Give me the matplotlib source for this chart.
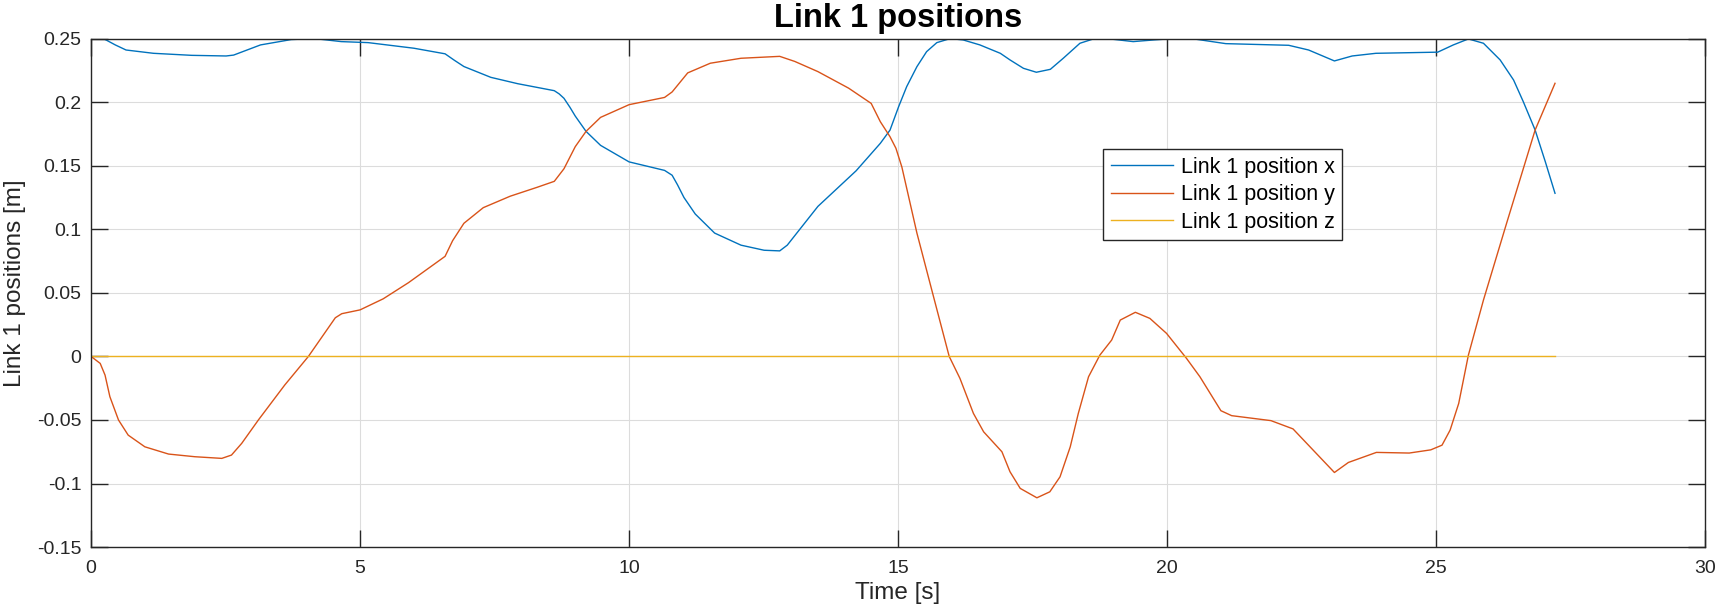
import matplotlib
matplotlib.use("Agg")
import matplotlib.pyplot as plt

plt.rcParams['font.family'] = ['Liberation Sans', 'DejaVu Sans']

# ---- data ----
t_x = [0, 0.23, 0.45, 0.65, 1.16, 1.87, 2.51, 2.65, 3.15, 3.72, 4.15, 4.65, 5.15, 6.0, 6.58,
       6.75, 6.93, 7.43, 7.93, 8.61, 8.7, 8.79, 8.9, 9.0, 9.2, 9.47, 10.0, 10.66, 10.8, 10.9,
       11.02, 11.23, 11.59, 12.08, 12.51, 12.8, 12.94, 13.51, 14.22, 14.67, 14.85, 15.01,
       15.16, 15.35, 15.53, 15.72, 15.97, 16.21, 16.52, 16.9, 17.08, 17.33, 17.57, 17.83,
       18.07, 18.38, 18.63, 19.0, 19.37, 19.75, 20.12, 20.5, 21.09, 22.26, 22.63, 23.11,
       23.44, 23.88, 25.03, 25.32, 25.6, 25.88, 26.19, 26.44, 26.62, 26.84, 27.03, 27.21]
pos_x = [0.25, 0.25, 0.245, 0.241, 0.2384, 0.2368, 0.2363, 0.237, 0.245, 0.2492, 0.25,
         0.2476, 0.2468, 0.2424, 0.238, 0.233, 0.228, 0.2195, 0.2145, 0.209, 0.2065, 0.203,
         0.196, 0.189, 0.177, 0.166, 0.153, 0.1463, 0.1425, 0.135, 0.125, 0.112, 0.097,
         0.0875, 0.0835, 0.083, 0.0875, 0.118, 0.146, 0.1676, 0.178, 0.1964, 0.2122, 0.2279,
         0.2397, 0.2468, 0.25, 0.2489, 0.245, 0.2384, 0.2332, 0.2266, 0.2235, 0.2258, 0.2345,
         0.2463, 0.2497, 0.2494, 0.2476, 0.2489, 0.25, 0.2497, 0.246, 0.2447, 0.241, 0.2324,
         0.2363, 0.2384, 0.2393, 0.245, 0.2497, 0.2463, 0.2332, 0.2174, 0.2004, 0.1781,
         0.1531, 0.1283]

t_y = [0, 0.17, 0.26, 0.35, 0.51, 0.69, 1.0, 1.44, 1.93, 2.43, 2.61, 2.8, 3.11, 3.6, 4.04,
       4.54, 4.66, 5.0, 5.43, 5.9, 6.58, 6.72, 6.93, 7.29, 7.79, 8.29, 8.61, 8.79, 9.0, 9.2,
       9.47, 10.0, 10.66, 10.8, 11.09, 11.51, 12.08, 12.8, 13.08, 13.51, 14.08, 14.5, 14.67,
       14.85, 14.96, 15.07, 15.35, 15.64, 15.95, 16.15, 16.4, 16.59, 16.93, 17.08, 17.27,
       17.58, 17.82, 18.01, 18.2, 18.35, 18.54, 18.75, 18.97, 19.13, 19.41, 19.68, 19.99,
       20.36, 20.61, 21.0, 21.2, 21.93, 22.34, 23.11, 23.37, 23.89, 24.5, 24.9, 25.11,
       25.26, 25.42, 25.6, 25.88, 26.31, 26.84, 27.21]
pos_y = [0, -0.0055, -0.0147, -0.0317, -0.05, -0.0619, -0.0711, -0.0768, -0.0789, -0.0802,
         -0.0776, -0.0684, -0.05, -0.0225, 0.0, 0.0304, 0.0336, 0.0366, 0.0453, 0.058,
         0.0787, 0.091, 0.1047, 0.117, 0.126, 0.133, 0.1377, 0.1476, 0.165, 0.177, 0.188,
         0.198, 0.2037, 0.208, 0.223, 0.2306, 0.2345, 0.236, 0.232, 0.224, 0.211, 0.199,
         0.1846, 0.1728, 0.1637, 0.149, 0.097, 0.05, 0.0, -0.0173, -0.0448, -0.0593, -0.075,
         -0.0907, -0.1038, -0.1112, -0.1065, -0.0947, -0.0711, -0.0448, -0.016, 0.001,
         0.0129, 0.0286, 0.0347, 0.0299, 0.0181, -0.0015, -0.016, -0.0427, -0.0466, -0.0505,
         -0.057, -0.0913, -0.0834, -0.0755, -0.076, -0.0735, -0.0698, -0.058, -0.037, 0.001,
         0.0443, 0.1047, 0.178, 0.2148]

t_z = [0, 27.21]
pos_z = [0, 0]

series_labels = ['Link 1 position x', 'Link 1 position y', 'Link 1 position z']
x_ticks = [0, 5, 10, 15, 20, 25, 30]
y_ticks = [-0.15, -0.1, -0.05, 0, 0.05, 0.1, 0.15, 0.2, 0.25]
y_tick_labels = ['-0.15', '-0.1', '-0.05', '0', '0.05', '0.1', '0.15', '0.2', '0.25']

# ---- figure ----
fig = plt.figure(figsize=(17.18, 6.12), dpi=100)
ax = fig.add_axes([0.053, 0.106, 0.9395, 0.831])

ax.plot(t_x, pos_x, color='#0072BD', lw=1.0, label=series_labels[0])
ax.plot(t_y, pos_y, color='#D95319', lw=1.0, label=series_labels[1])
ax.plot(t_z, pos_z, color='#EDB120', lw=1.0, label=series_labels[2])

ax.set_xlim(0, 30)
ax.set_ylim(-0.15, 0.25)
ax.set_xticks(x_ticks)
ax.set_xticklabels([str(v) for v in x_ticks])
ax.set_yticks(y_ticks)
ax.set_yticklabels(y_tick_labels)

ax.grid(True, color='#dcdcdc', lw=0.8)
ax.set_axisbelow(True)
for s in ax.spines.values():
    s.set_color('#262626')
    s.set_linewidth(1.0)
ax.tick_params(direction='in', length=12, width=1.0, colors='#262626',
               labelsize=14, top=True, right=True, pad=7)
ax.tick_params(axis='x', pad=9)

ax.set_title('Link 1 positions', fontsize=23.5, fontweight='bold', pad=8)
ax.set_xlabel('Time [s]', fontsize=17.5, color='#262626', labelpad=4)
ax.set_ylabel('Link 1 positions [m]', fontsize=17.5, color='#262626')
ax.yaxis.set_label_coords(-0.0405, 0.519)

leg = ax.legend(loc='upper left', bbox_to_anchor=(0.627, 0.783), fontsize=15.5,
                frameon=True, fancybox=False, edgecolor='#262626', framealpha=1,
                handlelength=2.9, handletextpad=0.35, borderpad=0.36, labelspacing=0.3,
                borderaxespad=0)
leg.get_frame().set_linewidth(1.0)

fig.savefig('out.png', dpi=100)
